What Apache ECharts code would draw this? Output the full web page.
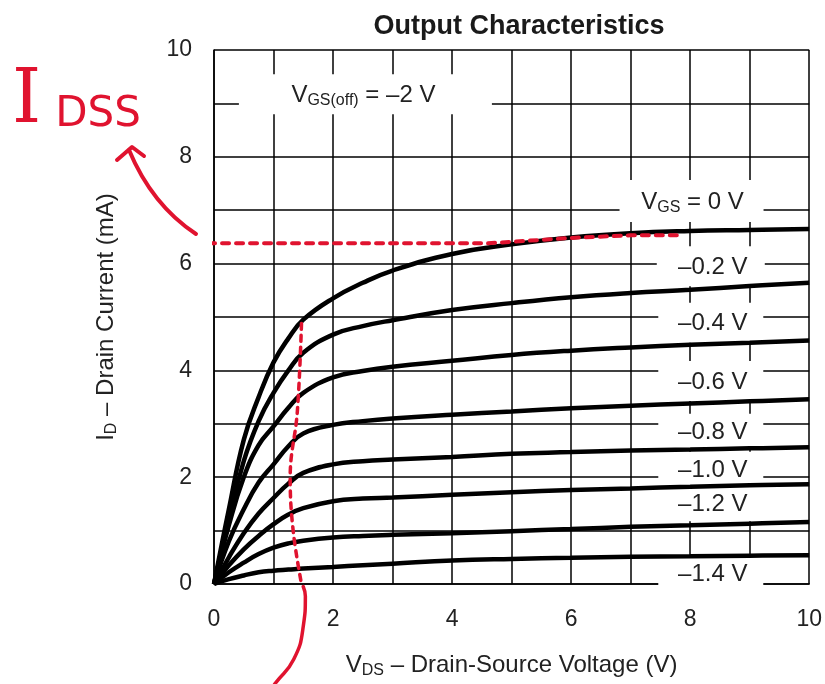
<!DOCTYPE html>
<html><head><meta charset="utf-8">
<script src="https://cdn.jsdelivr.net/npm/echarts@6/dist/echarts.min.js"></script>
<style>html,body{margin:0;padding:0;background:#fff}#c{width:825px;height:684px}</style>
</head><body><div id="c"></div>
<script>
// ---- data ----
const vds = [0, 0.25, 0.5, 0.75, 1, 1.25, 1.5, 2, 2.5, 3, 4, 5, 6, 7, 8, 9, 10];
const idVgs0   = [0, 1.4, 2.7, 3.5, 4.15, 4.6, 4.95, 5.35, 5.64, 5.87, 6.18, 6.36, 6.49, 6.57, 6.61, 6.63, 6.65];
const idVgsM02 = [0, 1.2, 2.3, 3.05, 3.58, 4.0, 4.33, 4.67, 4.83, 4.94, 5.13, 5.26, 5.37, 5.45, 5.51, 5.58, 5.64];
const idVgsM04 = [0, 1.1, 2.0, 2.6, 2.95, 3.3, 3.58, 3.87, 3.99, 4.07, 4.18, 4.29, 4.37, 4.43, 4.48, 4.52, 4.56];
const idVgsM06 = [0, 0.8, 1.4, 1.9, 2.24, 2.58, 2.82, 2.98, 3.05, 3.10, 3.17, 3.23, 3.29, 3.34, 3.38, 3.42, 3.46];
const idVgsM08 = [0, 0.5, 0.95, 1.32, 1.61, 1.88, 2.08, 2.24, 2.3, 2.33, 2.38, 2.44, 2.47, 2.50, 2.52, 2.54, 2.56];
const idVgsM10 = [0, 0.35, 0.65, 0.9, 1.12, 1.3, 1.42, 1.55, 1.6, 1.62, 1.67, 1.72, 1.76, 1.79, 1.82, 1.85, 1.87];
const idVgsM12 = [0, 0.22, 0.40, 0.56, 0.68, 0.76, 0.81, 0.87, 0.9, 0.92, 0.95, 0.99, 1.03, 1.07, 1.10, 1.13, 1.16];
const idVgsM14 = [0, 0.09, 0.16, 0.22, 0.25, 0.27, 0.29, 0.32, 0.35, 0.38, 0.44, 0.47, 0.49, 0.51, 0.52, 0.53, 0.54];
const curves = [idVgs0, idVgsM02, idVgsM04, idVgsM06, idVgsM08, idVgsM10, idVgsM12, idVgsM14];

// curve labels
const labelTexts = ['{m|V}{s|GS}{m| = 0 V}', '{m|–0.2 V}', '{m|–0.4 V}', '{m|–0.6 V}', '{m|–0.8 V}', '{m|–1.0 V}', '{m|–1.2 V}', '{m|–1.4 V}'];
const labelX = [8.04, 8.38, 8.38, 8.38, 8.38, 8.38, 8.38, 8.38];
const labelY = [7.17, 5.95, 4.89, 3.80, 2.85, 2.14, 1.51, 0.20];
const offText = '{m|V}{s|GS(off)}{m| = –2 V}';
const offX = 2.51, offY = 9.17;

// red hand annotations (IDSS read-off)
const idssHX = [-0.1, 4.6, 6, 7, 7.8];
const idssHY = [6.38, 6.38, 6.48, 6.53, 6.53];
const idssVX = [1.47, 1.40, 1.28, 1.33, 1.47];
const idssVY = [4.88, 3.23, 2.0, 1.0, 0.0];
const tailX = [1.5, 1.535, 1.50, 1.34, 1.03, 0.95];
const tailY = [-0.05, -0.23, -0.79, -1.41, -1.86, -2.0];

const xTicks = [0, 2, 4, 6, 8, 10];
const yTicks = [0, 2, 4, 6, 8, 10];

// ---- styles ----
const FONT = "'Liberation Sans', Arial, Helvetica, sans-serif";
const TXT = '#222';
const RED = '#e0132f';
function rich(size, sub) {
  return {
    m: {fontSize: size, fontFamily: FONT, color: TXT, fill: TXT, lineHeight: size, verticalAlign: 'top'},
    s: {fontSize: sub, fontFamily: FONT, color: TXT, fill: TXT, lineHeight: sub, padding: [Math.round(size * 0.46), 0, 0, 0]}
  };
}

const chart = echarts.init(document.getElementById('c'));
const pairs = arr => vds.map((x, i) => [x, arr[i]]);
const zip = (xs, ys) => xs.map((x, i) => [x, ys[i]]);

const series = curves.map(c => ({
  type: 'line', data: pairs(c), symbol: 'none', smooth: 0.45,
  lineStyle: {color: '#000', width: 4.5}, z: 3, silent: true
}));
series.push({type: 'line', data: zip(idssHX, idssHY), symbol: 'none', clip: false, z: 4,
  lineStyle: {color: RED, width: 4, type: [7, 7], cap: 'round'}});
series.push({type: 'line', data: zip(idssVX, idssVY), symbol: 'none', clip: false, smooth: 0.4, z: 4,
  lineStyle: {color: RED, width: 3.5, type: [6, 6], cap: 'round'}});
series.push({type: 'line', data: zip(tailX, tailY), symbol: 'none', clip: false, smooth: 0.5, z: 4,
  lineStyle: {color: RED, width: 3.5, cap: 'round'}});

const axisCommon = {
  type: 'value', min: 0, max: 10, interval: 1,
  axisLine: {show: true, lineStyle: {color: '#000', width: 1.5}},
  axisTick: {show: false},
  splitLine: {show: true, lineStyle: {color: '#000', width: 1.5}},
};

chart.setOption({
  animation: false,
  backgroundColor: '#fff',
  title: {
    text: 'Output Characteristics', left: 514, top: 8, textAlign: 'center',
    textStyle: {fontFamily: FONT, fontSize: 27, fontWeight: 'bold', color: '#1a1a1a'}
  },
  grid: {left: 214, right: 5, top: 50, bottom: 100},
  xAxis: Object.assign({}, axisCommon, {
    axisLabel: {fontFamily: FONT, fontSize: 23, color: TXT, margin: 24,
      formatter: v => xTicks.includes(v) ? String(v) : ''},
    name: '{m|V}{s|DS}{m| – Drain-Source Voltage (V)}',
    nameLocation: 'middle', nameGap: 69,
    nameTextStyle: {rich: rich(24, 16)}
  }),
  yAxis: Object.assign({}, axisCommon, {
    axisLabel: {fontFamily: FONT, fontSize: 23, color: TXT, margin: 22,
      formatter: v => yTicks.includes(v) ? String(v) : ''},
    name: '{m|I}{s|D}{m| – Drain Current (mA)}',
    nameLocation: 'middle', nameGap: 96,
    nameTextStyle: {rich: rich(24, 16)}
  }),
  series: series
});

// ---- label boxes positioned through the grid's scales ----
const boxW = [144, 108, 105, 105, 105, 105, 105, 105];
const boxH = [42, 40, 40, 40, 36, 36, 36, 36];
const els = [];
function addLabel(text, dx, dy, w, h, bx) {
  const p = chart.convertToPixel({gridIndex: 0}, [dx, dy]);
  els.push({type: 'rect', z: 1, shape: {x: p[0] - w / 2 + (bx || 0), y: p[1] - h / 2, width: w, height: h},
    style: {fill: '#fff'}, silent: true});
  els.push({type: 'text', z: 1, x: p[0], y: p[1] + 1,
    style: {text: text, rich: rich(24, 16), align: 'center', verticalAlign: 'middle', fill: TXT}, silent: true});
}
labelTexts.forEach((t, i) => addLabel(t, labelX[i], labelY[i], boxW[i], boxH[i], i === 0 ? -1 : -2));
addLabel(offText, offX, offY, 253, 40, 2);

// handwritten IDSS note
els.push({type: 'text', z: 5, x: 12, y: 66,
  style: {text: '{a|I}{b|DSS}', verticalAlign: 'top', align: 'left',
    rich: {a: {fontSize: 74, lineHeight: 74, verticalAlign: 'top', fontFamily: "'DejaVu Serif', serif", fill: RED, color: RED, padding: [0, 14, 0, 0]},
           b: {fontSize: 42, lineHeight: 42, fontFamily: "'DejaVu Sans', sans-serif", fill: RED, color: RED, padding: [24, 0, 0, 0]}}}, silent: true});
els.push({type: 'bezierCurve', z: 5, shape: {x1: 196, y1: 234, x2: 129, y2: 150, cpx1: 152, cpy1: 205},
  style: {stroke: RED, lineWidth: 4, fill: null, lineCap: 'round'}, silent: true});
els.push({type: 'polyline', z: 5, shape: {points: [[117, 160], [132, 147], [144, 156]]},
  style: {stroke: RED, lineWidth: 4, fill: null, lineCap: 'round', lineJoin: 'round'}, silent: true});
chart.setOption({graphic: {elements: els}});
</script></body></html>
